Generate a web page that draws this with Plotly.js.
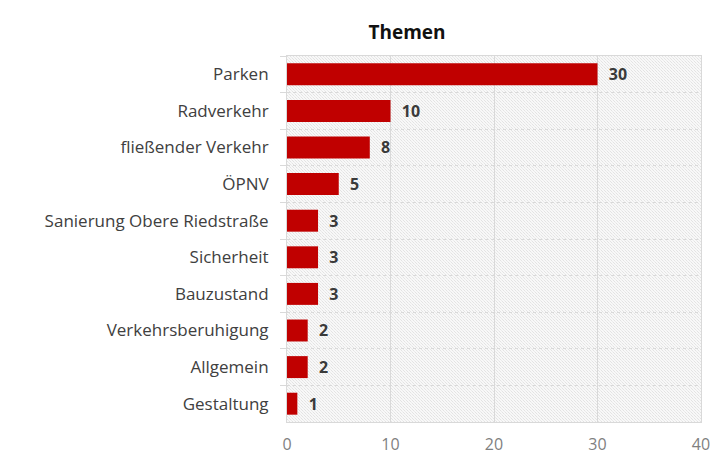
<!DOCTYPE html>
<html><head><meta charset="utf-8">
<script src="https://cdn.plot.ly/plotly-3.0.1.min.js"></script>
<style>body{margin:0;background:#fff}#c{width:716px;height:463px}</style>
</head><body><div id="c"></div>
<script>
const categories = ["Parken","Radverkehr","fließender Verkehr","ÖPNV","Sanierung Obere Riedstraße","Sicherheit","Bauzustand","Verkehrsberuhigung","Allgemein","Gestaltung"];
const values = [30,10,8,5,3,3,3,2,2,1];
const xTicks = [0,10,20,30,40];
const chartTitle = "Themen";

const fontFam = "'Open Sans', 'Noto Sans', sans-serif";
const trace = {
  type: 'bar', orientation: 'h',
  y: categories, x: values,
  marker: {color: '#C00000', line: {width: 0}},
  text: values.map(v => '  ' + v),
  textposition: 'outside',
  textfont: {family: fontFam, size: 16, color: '#3a3a3a', weight: 'bold'},
  cliponaxis: false,
  hoverinfo: 'skip'
};

// fine checker hatch for the plot background
const bgSvg = '<svg xmlns="http://www.w3.org/2000/svg" width="414" height="366" viewBox="0 0 414 366" preserveAspectRatio="none">' +
  '<defs><pattern id="p" width="3" height="3" patternUnits="userSpaceOnUse">' +
  '<rect width="3" height="3" fill="#f8f8f8"/><rect x="0" y="0" width="1" height="1" fill="#e3e3e3"/>' +
  '<rect x="1" y="1" width="1" height="1" fill="#ebebeb"/><rect x="2" y="2" width="1" height="1" fill="#e3e3e3"/></pattern></defs>' +
  '<rect width="414" height="366" fill="url(#p)"/></svg>';
const bgSrc = 'data:image/svg+xml;charset=utf-8,' + encodeURIComponent(bgSvg);

const layout = {
  width: 716, height: 463,
  margin: {l: 287, r: 15, t: 56, b: 41},
  paper_bgcolor: '#ffffff',
  plot_bgcolor: '#f0f0f0',
  bargap: 0.4,
  showlegend: false,
  images: [{source: bgSrc, xref: 'paper', yref: 'paper', x: 0, y: 1, sizex: 1, sizey: 1,
    xanchor: 'left', yanchor: 'top', sizing: 'stretch', layer: 'below'}],
  title: {text: '<b>' + chartTitle + '</b>', x: 407/716, xanchor: 'center', xref: 'container', y: 1 - 32/463, yanchor: 'middle', yref: 'container',
    font: {family: fontFam, size: 19, color: '#111111'}},
  xaxis: {range: [0, 40], tickvals: xTicks, ticktext: xTicks.map(String), showgrid: true, gridcolor: '#d9d9d9', gridwidth: 1,
    zeroline: false, showline: true, linecolor: '#d9d9d9', mirror: true, ticks: '',
    tickfont: {family: fontFam, size: 16, color: '#7f7f7f'}, ticklabelstandoff: 8, fixedrange: true},
  yaxis: {type: 'category', autorange: 'reversed', tickson: 'boundaries', ticks: 'outside', ticklen: 6, tickcolor: '#d9d9d9',
    showgrid: true, gridcolor: '#d9d9d9', griddash: 'dot', gridwidth: 1, zeroline: false,
    showline: true, linecolor: '#d9d9d9', mirror: true,
    tickfont: {family: fontFam, size: 17, color: '#404040'}, ticklabelstandoff: 14, fixedrange: true}
};
Plotly.newPlot('c', [trace], layout, {displayModeBar: false, staticPlot: true});
</script></body></html>
